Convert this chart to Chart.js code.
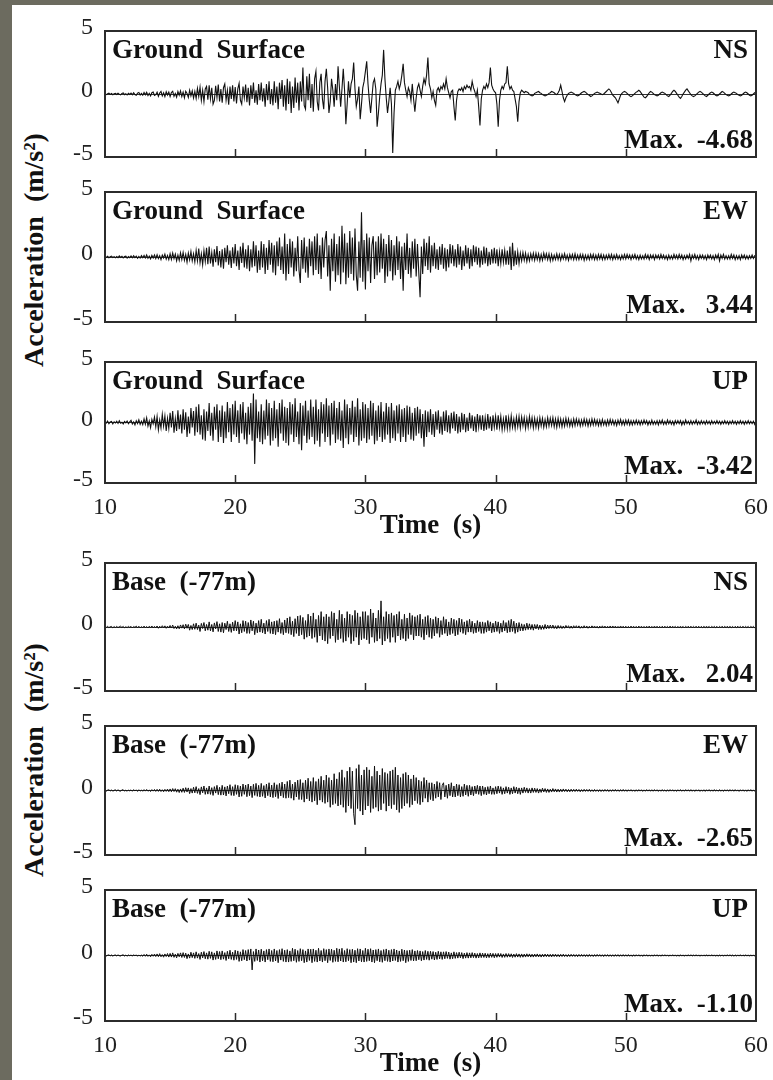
<!DOCTYPE html>
<html><head><meta charset="utf-8">
<script src="https://cdn.jsdelivr.net/npm/chart.js@4.4.1/dist/chart.umd.min.js"></script>
<style>
html,body{margin:0;padding:0;background:#fff;width:773px;height:1080px;overflow:hidden;position:relative;}
.frameL{position:absolute;left:0;top:0;width:12px;height:1080px;background:#6c6b5f;}
.frameT{position:absolute;left:0;top:0;width:773px;height:5px;background:#6c6b5f;}
canvas{position:absolute;left:0;}
.ytitle{position:absolute;left:34px;font:bold 28px "Liberation Serif",serif;color:#111;white-space:pre;transform:translate(-50%,-50%) rotate(-90deg);}
</style></head><body>
<div class="frameL"></div><div class="frameT"></div>
<div class="ytitle" style="top:250px">Acceleration  (m/s²)</div>
<div class="ytitle" style="top:760px">Acceleration  (m/s²)</div>
<script>
const T_START = 10;
const T_STEP = 0.1;   // sampling interval (s) of every record, one row = 1 s
const X_TICKS = [10, 20, 30, 40, 50, 60];
const Y_TICKS = [-5, 0, 5];
const STATIONS = ['Ground  Surface','Ground  Surface','Ground  Surface','Base  (-77m)','Base  (-77m)','Base  (-77m)'];
const COMPONENTS = ['NS','EW','UP','NS','EW','UP'];
const MAX_TEXT = ['Max.  -4.68','Max.   3.44','Max.  -3.42','Max.   2.04','Max.  -2.65','Max.  -1.10'];

// Ground surface NS
const gsNS = [
0.03,-0.05,0.02,0.06,-0.03,0.04,-0.06,0.02,0.05,-0.04,
0.06,-0.02,-0.07,0.04,0.08,-0.05,0.03,-0.08,0.06,-0.03,
0.08,-0.06,0.1,-0.04,-0.1,0.07,0.12,-0.08,0.05,-0.1,
0.12,-0.06,0.14,-0.12,0.05,-0.15,0.1,0.16,-0.12,-0.05,
0.15,-0.18,0.08,0.2,-0.15,0.1,-0.2,0.18,-0.08,0.15,
-0.2,0.12,0.22,-0.18,0.05,-0.25,0.2,-0.1,0.25,-0.2,
0.15,-0.3,0.22,0.05,-0.28,0.3,-0.15,0.25,-0.32,0.2,
-0.35,0.45,-0.2,0.55,-0.5,0.3,-0.6,0.4,0.6,-0.45,
0.7,-0.4,0.5,-0.8,-0.5,0.65,-0.3,0.75,-0.6,0.4,
-0.7,0.5,0.8,-0.5,0.3,-0.85,0.6,-0.4,0.7,-0.6,
0.55,-0.75,0.4,0.85,-0.5,-0.8,0.6,-0.3,0.75,-0.65,
0.5,-0.9,0.7,-0.4,0.9,-0.7,0.3,-0.85,0.8,-0.5,
0.9,-0.6,0.45,-1.0,0.8,-0.5,1.0,-0.8,0.4,-0.9,
1.0,-0.7,0.6,-1.2,0.9,-0.4,1.1,-1.0,0.7,-1.3,
1.2,-0.8,1.0,-1.5,0.6,-1.1,1.3,-0.7,0.9,-1.3,
1.0,-0.6,2.1,-0.9,-1.2,1.4,-0.5,1.6,-1.1,0.8,
-1.4,1.2,1.8,-0.6,-1.3,0.9,1.6,-0.4,-1.2,1.0,
2.0,0.5,-1.5,-0.6,1.2,0.3,-1.0,0.8,-0.5,2.2,
0.6,-1.0,0.4,2.0,0.3,-2.4,-0.8,1.0,-0.3,0.8,
1.2,2.5,0.4,-1.0,-0.4,0.6,-2.0,-0.8,0.5,1.0,
1.8,2.6,0.8,-0.5,-1.5,-0.3,0.9,1.2,0.4,-2.6,
-1.5,-0.2,0.8,1.5,3.5,1.2,-0.3,-1.5,-0.6,0.5,
-0.8,-4.68,-1.5,0.3,0.6,1.0,0.4,0.8,1.5,2.4,
0.9,0.3,-0.2,0.5,0.2,-0.5,0.8,-0.4,-1.4,-0.3,
0.5,0.8,0.3,-0.2,0.6,1.2,0.8,1.5,2.9,0.8,
0.4,-0.3,0.2,-0.5,-0.9,0.3,0.5,0.2,0.6,0.4,
0.8,0.4,1.2,0.5,0.1,-0.3,0.2,0.3,-1.0,-2.1,
-0.5,0.2,0.4,0.3,0.5,0.2,0.6,0.4,0.7,0.5,
0.6,0.3,1.0,0.5,0.2,-0.2,0.3,-1.0,-2.5,-0.4,
0.3,0.6,0.4,0.8,0.5,0.9,2.1,0.7,0.4,0.2,
0.1,-0.8,-2.6,-0.5,0.3,0.6,0.4,0.8,0.9,2.2,
0.8,0.4,0.6,0.3,0.2,-0.4,-1.0,-2.2,-0.6,0.1,
0.3,0.2,0.1,0.2,0.15,0.1,-0.05,-0.1,-0.15,-0.1,
0.05,0.1,0.15,0.2,0.1,0.05,-0.05,-0.1,-0.15,-0.1,
-0.05,0.05,0.1,0.2,0.15,0.1,0.0,-0.05,0.1,0.3,
0.7,0.2,-0.3,-0.6,-0.3,-0.1,0.05,0.1,0.15,0.1,
0.05,-0.05,-0.1,-0.15,-0.1,0.0,0.1,0.15,0.2,0.15,
0.05,-0.05,-0.1,-0.2,-0.15,-0.05,0.05,0.1,0.15,0.1,
0.05,0.0,-0.05,0.0,0.1,0.2,0.3,0.4,0.3,0.1,
-0.1,-0.2,-0.3,-0.5,-0.7,-0.4,-0.1,0.05,0.15,0.2,
0.15,0.05,-0.05,-0.15,-0.2,-0.15,-0.05,0.05,0.15,0.2,
0.3,0.2,0.05,-0.1,-0.25,-0.3,-0.2,-0.05,0.1,0.2,
0.15,0.05,-0.05,-0.1,-0.15,-0.1,0.0,0.1,0.15,0.1,
0.05,-0.05,-0.15,-0.2,-0.1,0.05,0.2,0.3,0.2,0.05,
-0.1,-0.25,-0.35,-0.2,0.0,0.15,0.3,0.4,0.25,0.1,
-0.05,-0.15,-0.2,-0.15,-0.05,0.05,0.15,0.2,0.15,0.05,
-0.05,-0.15,-0.2,-0.1,0.0,0.1,0.15,0.1,0.0,-0.1,
-0.15,-0.1,0.0,0.1,0.2,0.15,0.05,-0.05,-0.1,-0.15,
-0.1,0.0,0.1,0.15,0.1,0.05,-0.05,-0.1,-0.15,-0.1,
0.0,0.1,0.15,0.1,0.0,-0.1,-0.15,-0.1,0.0,0.1,
0.05];

// Ground surface EW
const gsEW = [
0.05,-0.03,0.06,-0.05,0.02,0.07,-0.04,0.03,-0.06,0.04,
-0.05,0.08,-0.03,0.05,-0.07,0.04,0.06,-0.08,0.03,-0.05,
0.08,-0.06,0.1,-0.04,0.07,-0.1,0.05,-0.08,0.1,-0.06,
0.12,-0.08,0.15,-0.1,0.06,-0.14,0.12,-0.07,0.16,-0.12,
0.18,-0.12,0.1,-0.2,0.15,-0.08,0.22,-0.16,0.12,-0.2,
0.25,-0.18,0.3,-0.12,0.22,-0.3,0.15,-0.25,0.32,-0.2,
0.35,-0.25,0.2,-0.4,0.3,-0.22,0.42,-0.3,0.25,-0.38,
0.5,-0.3,0.65,-0.45,0.25,-0.6,0.5,-0.35,0.7,-0.55,
0.8,-0.5,0.35,-0.75,0.6,-0.4,0.85,-0.65,0.45,-0.8,
0.6,-0.9,0.7,-0.4,0.9,-0.6,0.5,-0.85,0.75,-0.5,
1.0,-0.7,0.5,-1.0,0.8,-0.45,1.1,-0.8,0.6,-0.9,
0.9,-1.1,0.6,-0.8,1.2,-0.7,0.9,-1.2,0.5,-1.0,
1.2,-0.8,1.0,-1.3,0.7,-1.0,1.3,-0.6,1.1,-1.2,
0.9,-1.4,1.2,-0.7,1.5,-1.0,0.8,-1.3,1.8,-1.8,
1.0,-1.3,1.4,-0.8,1.2,-1.5,0.7,-1.1,1.6,-1.0,
-2.0,1.3,-0.9,1.5,-1.2,0.8,-1.6,1.4,-0.7,1.2,
-1.4,1.6,-1.0,1.8,-1.3,0.9,-1.7,1.5,-0.8,1.3,
2.0,-1.5,0.9,-2.6,1.4,-1.1,1.8,-1.9,1.0,-1.4,
1.6,-2.1,2.4,-1.2,1.8,-2.1,1.1,-1.6,2.0,-1.3,
1.5,-1.8,2.2,-1.4,-2.6,1.2,-1.6,3.44,-1.9,1.3,
-2.5,1.8,-1.1,1.5,-2.0,0.9,1.6,-1.7,1.2,-1.4,
1.6,-1.2,1.8,-0.9,1.4,-2.0,1.0,-1.5,1.7,-1.1,
1.3,-1.8,0.9,-1.4,1.6,-1.0,1.2,-1.7,0.8,-2.6,
1.1,-1.0,1.8,-1.3,0.7,-1.6,1.2,-0.9,1.4,-1.5,
1.0,-1.2,-3.1,0.8,-1.3,1.4,-0.7,1.1,-1.0,1.6,
-1.2,0.9,-0.7,1.1,-0.9,0.6,-1.0,0.8,-0.6,1.0,
-0.9,0.7,-1.1,0.6,-0.8,1.0,-0.5,0.9,-0.7,0.6,
-0.8,1.0,-0.6,0.8,-1.0,0.5,-0.7,0.9,-0.5,0.7,
-0.9,0.6,-0.7,0.9,-0.4,0.8,-0.6,0.7,-0.8,0.5,
-0.6,0.8,-0.5,0.7,-0.7,0.4,-0.6,0.6,-0.5,0.7,
-0.5,0.6,-0.7,0.4,-0.5,0.6,-0.4,0.5,-0.6,0.5,
-0.6,0.8,-1.0,1.1,-0.7,0.5,-0.6,0.4,-0.5,0.3,
-0.3,0.35,-0.25,0.3,-0.35,0.2,-0.3,0.25,-0.2,0.3,
-0.25,0.3,-0.2,0.25,-0.3,0.2,-0.25,0.3,-0.15,0.25,
-0.2,0.25,-0.3,0.2,-0.25,0.15,-0.2,0.25,-0.2,0.2,
-0.25,0.2,-0.15,0.25,-0.2,0.15,-0.25,0.2,-0.15,0.2,
-0.2,0.25,-0.2,0.15,-0.2,0.2,-0.15,0.2,-0.25,0.15,
-0.2,0.15,-0.2,0.2,-0.15,0.2,-0.2,0.15,-0.2,0.2,
-0.15,0.2,-0.2,0.15,-0.2,0.15,-0.15,0.2,-0.15,0.2,
-0.2,0.15,-0.15,0.2,-0.15,0.1,-0.2,0.15,-0.15,0.2,
-0.15,0.2,-0.1,0.15,-0.2,0.15,-0.1,0.2,-0.15,0.1,
-0.2,0.15,-0.15,0.1,-0.15,0.2,-0.1,0.15,-0.2,0.15,
-0.1,0.15,-0.2,0.15,-0.1,0.15,-0.15,0.2,-0.1,0.15,
-0.15,0.1,-0.2,0.15,-0.15,0.1,-0.15,0.2,-0.1,0.15,
-0.15,0.2,-0.1,0.15,-0.2,0.1,-0.15,0.15,-0.1,0.2,
-0.3,0.15,-0.1,0.2,-0.15,0.1,-0.2,0.15,-0.1,0.15,
-0.15,0.1,-0.2,0.15,-0.1,0.15,-0.15,0.1,-0.2,0.15,
-0.1,0.2,-0.3,0.15,-0.1,0.2,-0.15,0.1,-0.15,0.1,
-0.15,0.2,-0.1,0.15,-0.2,0.1,-0.15,0.1,-0.2,0.15,
-0.1,0.15,-0.15,0.1,-0.15,0.1,-0.1,0.15,-0.1,0.1,
0.05];

// Ground surface UP
const gsUP = [
0.1,-0.05,0.12,-0.1,0.04,0.08,-0.12,0.06,-0.04,0.1,
-0.08,0.14,-0.06,0.02,-0.12,0.09,-0.03,0.12,-0.1,0.05,
0.18,-0.12,0.05,-0.2,0.15,-0.08,0.22,-0.15,0.1,-0.18,
0.3,-0.15,0.38,-0.3,0.12,-0.42,0.25,-0.1,0.45,-0.35,
0.5,-0.6,0.2,-0.45,0.68,-0.3,0.55,-0.7,0.35,-0.5,
0.8,-0.4,0.95,-0.85,0.3,-0.7,1.0,-0.55,0.65,-0.9,
1.1,-0.6,0.85,-1.2,0.5,-0.9,1.2,-0.4,0.95,-1.1,
1.3,-0.8,1.5,-1.0,0.6,-1.4,1.1,-1.5,0.9,-0.7,
1.6,-1.1,0.8,-1.5,1.3,-0.6,1.5,-1.6,1.0,-1.2,
1.4,-1.7,0.9,-1.3,1.7,-0.8,1.2,-1.6,1.5,-1.0,
1.8,-1.2,1.0,-1.7,1.5,-0.9,1.7,-1.4,0.8,-1.8,
1.3,-1.0,1.6,-1.5,2.4,-3.42,1.9,-1.3,0.9,-1.6,
1.5,-1.8,1.0,-1.4,1.9,-1.1,1.6,-1.9,1.2,-1.5,
1.8,-1.3,1.1,-2.0,1.6,-0.9,1.9,-1.5,1.3,-1.7,
1.2,-1.9,1.7,-1.0,1.5,-1.6,2.0,-1.2,0.9,-1.8,
1.6,-2.3,1.4,-1.1,1.8,-1.7,1.0,-1.4,1.9,-1.2,
1.3,-1.8,1.9,-1.5,1.1,-2.0,1.7,-0.9,1.5,-1.6,
2.0,-1.2,1.4,-1.9,1.6,-1.0,1.8,-1.7,1.2,-1.4,
1.7,-1.5,1.0,-2.1,1.9,-1.3,1.5,-1.8,1.2,-1.0,
1.8,-1.6,1.3,-1.2,2.0,-1.9,1.1,-1.5,1.7,-1.3,
1.5,-1.7,1.2,-1.4,1.8,-1.1,1.6,-1.8,1.0,-1.5,
1.4,-1.2,1.7,-1.6,0.9,-1.4,1.6,-1.0,1.3,-1.7,
1.6,-1.3,1.0,-1.5,1.4,-0.9,1.5,-1.6,1.1,-1.2,
1.2,-1.6,1.4,-1.0,1.3,-1.4,0.8,-1.5,1.2,-1.1,
1.3,-0.9,1.1,-1.3,0.7,-2.0,1.0,-1.2,0.9,-0.8,
1.1,-1.0,0.7,-1.2,0.9,-0.6,1.0,-0.9,0.5,-1.0,
0.9,-0.7,1.0,-0.8,0.6,-0.9,0.8,-0.5,0.9,-0.7,
0.7,-0.9,0.5,-0.8,0.8,-0.6,0.7,-0.8,0.4,-0.7,
0.8,-0.5,0.6,-0.7,0.5,-0.8,0.7,-0.4,0.6,-0.6,
0.6,-0.7,0.4,-0.6,0.7,-0.5,0.5,-0.7,0.6,-0.4,
0.5,-0.6,0.6,-0.4,0.5,-0.6,0.3,-0.5,0.6,-0.5,
0.4,-0.5,0.55,-0.4,0.3,-0.5,0.45,-0.35,0.5,-0.45,
0.45,-0.3,0.4,-0.5,0.35,-0.4,0.5,-0.3,0.4,-0.45,
0.35,-0.4,0.3,-0.45,0.4,-0.3,0.35,-0.4,0.25,-0.35,
0.4,-0.3,0.35,-0.25,0.4,-0.35,0.3,-0.4,0.35,-0.3,
0.3,-0.35,0.25,-0.3,0.35,-0.25,0.3,-0.3,0.2,-0.3,
0.3,-0.25,0.3,-0.2,0.25,-0.3,0.2,-0.25,0.3,-0.2,
0.25,-0.3,0.2,-0.25,0.3,-0.2,0.25,-0.2,0.2,-0.25,
0.2,-0.25,0.25,-0.2,0.15,-0.25,0.2,-0.2,0.25,-0.15,
0.2,-0.2,0.15,-0.25,0.2,-0.15,0.25,-0.2,0.15,-0.2,
0.2,-0.15,0.2,-0.2,0.15,-0.2,0.15,-0.15,0.2,-0.15,
0.15,-0.2,0.15,-0.15,0.2,-0.1,0.15,-0.2,0.1,-0.15,
0.2,-0.15,0.1,-0.15,0.15,-0.2,0.15,-0.1,0.2,-0.15,
0.1,-0.15,0.2,-0.1,0.15,-0.15,0.1,-0.2,0.15,-0.1,
0.15,-0.1,0.15,-0.2,0.1,-0.15,0.2,-0.1,0.1,-0.15,
0.15,-0.15,0.1,-0.1,0.2,-0.15,0.1,-0.15,0.15,-0.1,
0.1,-0.15,0.15,-0.1,0.1,-0.15,0.15,-0.1,0.1,-0.1,
0.15,-0.1,0.1,-0.15,0.1,-0.1,0.15,-0.1,0.1,-0.15,
0.1,-0.1,0.15,-0.1,0.1,-0.15,0.1,-0.1,0.15,-0.1,
0.1,-0.15,0.1,-0.1,0.15,-0.1,0.1,-0.1,0.1,-0.15,
0.1];

// Base (-77 m) NS
const bNS = [
0.04,-0.03,0.06,-0.05,0.02,0.05,-0.06,0.03,-0.04,0.05,
-0.05,0.03,0.06,-0.04,0.05,-0.06,0.02,-0.05,0.06,-0.03,
0.05,-0.07,0.04,-0.03,0.07,-0.05,0.06,-0.06,0.03,-0.05,
0.07,-0.05,0.04,-0.08,0.06,-0.04,0.08,-0.07,0.05,-0.06,
0.08,-0.1,0.06,-0.07,0.1,-0.05,0.09,-0.1,0.07,-0.08,
0.12,-0.08,0.15,-0.12,0.06,-0.15,0.1,-0.14,0.16,-0.09,
0.18,-0.15,0.22,-0.1,0.2,-0.25,0.12,-0.2,0.25,-0.18,
0.3,-0.2,0.15,-0.35,0.28,-0.12,0.35,-0.3,0.2,-0.25,
0.4,-0.3,0.2,-0.38,0.32,-0.15,0.42,-0.35,0.25,-0.4,
0.35,-0.45,0.3,-0.2,0.45,-0.35,0.25,-0.42,0.38,-0.3,
0.5,-0.3,0.4,-0.55,0.25,-0.45,0.5,-0.35,0.45,-0.5,
0.35,-0.5,0.55,-0.3,0.45,-0.6,0.3,-0.45,0.5,-0.4,
0.6,-0.45,0.3,-0.55,0.5,-0.35,0.6,-0.5,0.4,-0.55,
0.45,-0.6,0.5,-0.4,0.65,-0.5,0.35,-0.6,0.55,-0.45,
0.7,-0.5,0.8,-0.6,0.45,-0.75,0.65,-0.5,0.85,-0.7,
0.9,-0.6,0.75,-0.95,0.5,-0.8,1.0,-0.7,0.85,-0.9,
1.1,-0.8,0.6,-1.2,0.9,-0.7,1.2,-1.0,0.8,-1.1,
1.0,-1.3,0.8,-0.9,1.2,-0.7,1.1,-1.2,0.6,-1.0,
1.3,-0.9,1.0,-1.2,0.7,-1.1,1.2,-0.8,1.0,-1.3,
0.9,-1.1,1.3,-0.8,1.1,-1.4,0.8,-1.0,1.2,-0.9,
1.2,-1.0,0.9,-1.3,1.4,-0.8,1.1,-1.2,0.7,-1.1,
1.3,-0.9,2.04,-1.4,0.8,-1.1,1.2,-0.9,1.0,-1.2,
1.1,-0.8,0.9,-1.2,1.0,-0.7,1.2,-1.0,0.6,-0.9,
1.0,-1.1,0.7,-0.9,1.1,-0.6,0.9,-1.0,0.8,-0.7,
0.9,-0.7,1.0,-0.8,0.6,-1.0,0.8,-0.6,0.9,-0.8,
0.7,-0.9,0.6,-0.7,0.8,-0.5,0.7,-0.8,0.5,-0.6,
0.8,-0.5,0.6,-0.7,0.4,-0.6,0.7,-0.5,0.6,-0.7,
0.5,-0.6,0.7,-0.4,0.6,-0.5,0.4,-0.6,0.5,-0.4,
0.6,-0.4,0.45,-0.5,0.3,-0.45,0.5,-0.35,0.4,-0.5,
0.4,-0.5,0.35,-0.4,0.5,-0.3,0.4,-0.45,0.3,-0.4,
0.45,-0.35,0.4,-0.5,0.3,-0.4,0.5,-0.3,0.35,-0.45,
0.5,-0.4,0.6,-0.35,0.45,-0.5,0.3,-0.4,0.35,-0.3,
0.25,-0.3,0.2,-0.25,0.3,-0.2,0.25,-0.2,0.2,-0.25,
0.2,-0.15,0.2,-0.2,0.15,-0.2,0.12,-0.18,0.2,-0.15,
0.15,-0.12,0.15,-0.1,0.15,-0.12,0.1,-0.14,0.12,-0.1,
0.1,-0.12,0.08,-0.1,0.12,-0.08,0.1,-0.1,0.08,-0.1,
0.1,-0.08,0.1,-0.07,0.09,-0.1,0.06,-0.09,0.1,-0.08,
0.08,-0.1,0.06,-0.08,0.09,-0.06,0.08,-0.08,0.06,-0.09,
0.07,-0.08,0.09,-0.06,0.07,-0.08,0.06,-0.07,0.08,-0.06,
0.08,-0.06,0.07,-0.08,0.05,-0.07,0.08,-0.06,0.06,-0.07,
0.06,-0.07,0.05,-0.06,0.07,-0.05,0.06,-0.07,0.05,-0.06,
0.07,-0.05,0.06,-0.06,0.05,-0.07,0.06,-0.05,0.07,-0.06,
0.05,-0.06,0.07,-0.05,0.06,-0.05,0.05,-0.06,0.06,-0.05,
0.06,-0.05,0.05,-0.06,0.07,-0.05,0.06,-0.05,0.05,-0.06,
0.05,-0.06,0.06,-0.05,0.05,-0.06,0.05,-0.05,0.06,-0.05,
0.06,-0.05,0.05,-0.05,0.06,-0.05,0.06,-0.06,0.05,-0.05,
0.05,-0.05,0.06,-0.05,0.05,-0.06,0.05,-0.05,0.05,-0.05,
0.05,-0.06,0.05,-0.05,0.06,-0.05,0.05,-0.05,0.06,-0.05,
0.05,-0.05,0.05,-0.06,0.05,-0.05,0.06,-0.05,0.05,-0.05,
0.06,-0.05,0.05,-0.05,0.05,-0.06,0.05,-0.05,0.05,-0.05,
0.03];

// Base (-77 m) EW
const bEW = [
0.04,-0.05,0.03,0.06,-0.04,0.05,-0.06,0.02,0.05,-0.04,
0.06,-0.03,-0.05,0.04,0.06,-0.05,0.03,-0.06,0.04,-0.03,
0.05,-0.06,0.07,-0.04,0.05,-0.07,0.06,-0.05,0.04,-0.06,
0.07,-0.05,0.08,-0.06,0.04,-0.08,0.07,-0.05,0.08,-0.07,
0.09,-0.07,0.1,-0.08,0.06,-0.1,0.09,-0.07,0.11,-0.09,
0.12,-0.1,0.15,-0.08,0.14,-0.13,0.1,-0.16,0.12,-0.14,
0.18,-0.15,0.22,-0.12,0.2,-0.24,0.15,-0.2,0.25,-0.18,
0.3,-0.22,0.15,-0.32,0.28,-0.18,0.35,-0.3,0.2,-0.28,
0.35,-0.3,0.22,-0.38,0.3,-0.2,0.4,-0.32,0.25,-0.36,
0.4,-0.35,0.28,-0.42,0.35,-0.25,0.45,-0.38,0.3,-0.4,
0.45,-0.3,0.4,-0.5,0.35,-0.45,0.5,-0.3,0.42,-0.48,
0.5,-0.4,0.35,-0.55,0.48,-0.38,0.55,-0.45,0.4,-0.5,
0.55,-0.45,0.38,-0.58,0.5,-0.4,0.6,-0.5,0.42,-0.55,
0.6,-0.48,0.45,-0.62,0.55,-0.42,0.65,-0.55,0.5,-0.6,
0.7,-0.55,0.8,-0.6,0.5,-0.75,0.65,-0.5,0.8,-0.7,
0.85,-0.7,0.6,-0.9,0.8,-0.65,0.95,-0.8,0.7,-0.9,
1.0,-0.8,0.7,-1.1,0.9,-0.75,1.1,-0.9,0.8,-1.0,
1.2,-0.9,1.0,-1.3,0.8,-1.1,1.3,-1.0,0.9,-1.2,
1.4,-1.1,1.6,-1.3,1.0,-1.7,1.5,-1.2,1.8,-1.4,
1.5,-1.8,-2.65,1.7,-1.4,2.0,-1.6,1.2,-1.9,1.6,
-1.5,1.8,-1.2,1.6,-1.7,1.1,-1.4,1.9,-1.3,1.5,
-1.6,1.2,-1.5,1.7,-1.0,1.4,-1.6,1.3,-1.2,1.5,
-1.4,1.6,-1.1,1.8,-1.5,1.2,-1.7,1.0,-1.4,1.3,
-1.2,1.4,-1.0,1.2,-1.3,0.9,-1.1,1.2,-0.8,1.0,
-1.0,0.8,-1.1,0.7,-0.9,1.0,-0.6,0.8,-0.9,0.6,
-0.7,0.6,-0.8,0.5,-0.6,0.7,-0.5,0.6,-0.7,0.4,
0.6,-0.5,0.4,-0.6,0.5,-0.4,0.6,-0.5,0.35,-0.5,
0.5,-0.4,0.45,-0.5,0.3,-0.45,0.5,-0.35,0.4,-0.45,
0.4,-0.35,0.3,-0.4,0.35,-0.25,0.4,-0.3,0.35,-0.4,
0.35,-0.3,0.25,-0.35,0.3,-0.25,0.35,-0.3,0.2,-0.3,
0.3,-0.25,0.35,-0.2,0.3,-0.3,0.2,-0.25,0.3,-0.2,
0.25,-0.3,0.2,-0.25,0.3,-0.2,0.25,-0.25,0.2,-0.3,
0.2,-0.2,0.25,-0.15,0.2,-0.2,0.15,-0.2,0.2,-0.15,
0.18,-0.15,0.15,-0.2,0.12,-0.15,0.18,-0.12,0.15,-0.15,
0.12,-0.15,0.1,-0.12,0.15,-0.1,0.12,-0.12,0.1,-0.12,
0.1,-0.1,0.12,-0.08,0.1,-0.1,0.08,-0.1,0.1,-0.08,
0.09,-0.08,0.1,-0.07,0.08,-0.1,0.07,-0.08,0.09,-0.07,
0.08,-0.07,0.09,-0.08,0.06,-0.08,0.08,-0.07,0.06,-0.08,
0.07,-0.08,0.06,-0.07,0.08,-0.06,0.07,-0.08,0.06,-0.07,
0.07,-0.06,0.08,-0.06,0.06,-0.07,0.07,-0.06,0.08,-0.06,
0.06,-0.07,0.06,-0.05,0.07,-0.06,0.05,-0.07,0.06,-0.06,
0.07,-0.05,0.06,-0.07,0.05,-0.06,0.07,-0.05,0.06,-0.06,
0.06,-0.06,0.07,-0.05,0.06,-0.07,0.05,-0.06,0.07,-0.05,
0.05,-0.07,0.06,-0.06,0.07,-0.05,0.06,-0.06,0.05,-0.07,
0.06,-0.05,0.07,-0.06,0.05,-0.06,0.07,-0.05,0.06,-0.06,
0.07,-0.06,0.05,-0.07,0.06,-0.05,0.06,-0.07,0.05,-0.06,
0.06,-0.07,0.06,-0.05,0.07,-0.06,0.05,-0.06,0.07,-0.05,
0.05,-0.06,0.07,-0.06,0.05,-0.07,0.06,-0.05,0.06,-0.06,
0.07,-0.05,0.06,-0.06,0.07,-0.05,0.05,-0.07,0.06,-0.05,
0.06,-0.06,0.05,-0.07,0.06,-0.05,0.07,-0.06,0.05,-0.06,
0.03];

// Base (-77 m) UP
const bUP = [
0.03,-0.04,0.02,0.05,-0.03,0.04,-0.05,0.02,0.04,-0.03,
0.05,-0.02,-0.04,0.03,0.05,-0.04,0.03,-0.05,0.04,-0.02,
0.04,-0.05,0.06,-0.03,0.05,-0.06,0.04,-0.05,0.03,-0.06,
0.08,-0.06,0.1,-0.07,0.05,-0.1,0.09,-0.06,0.11,-0.08,
0.12,-0.09,0.14,-0.1,0.07,-0.13,0.12,-0.08,0.15,-0.12,
0.16,-0.12,0.2,-0.14,0.1,-0.18,0.16,-0.1,0.2,-0.15,
0.22,-0.15,0.18,-0.24,0.12,-0.2,0.25,-0.16,0.2,-0.22,
0.28,-0.2,0.15,-0.3,0.25,-0.18,0.3,-0.25,0.2,-0.28,
0.32,-0.22,0.28,-0.35,0.2,-0.3,0.35,-0.25,0.3,-0.32,
0.35,-0.28,0.22,-0.38,0.32,-0.25,0.4,-0.3,0.26,-0.36,
0.4,-0.3,0.35,-0.45,0.28,-0.4,0.45,-0.32,0.38,-0.42,
0.45,-0.35,0.5,-1.10,0.3,-0.45,0.5,-0.38,0.42,-0.5,
0.48,-0.4,0.35,-0.5,0.45,-0.32,0.5,-0.45,0.38,-0.48,
0.5,-0.42,0.38,-0.55,0.45,-0.35,0.52,-0.45,0.4,-0.5,
0.45,-0.5,0.35,-0.45,0.55,-0.4,0.48,-0.52,0.38,-0.45,
0.52,-0.4,0.45,-0.55,0.35,-0.5,0.5,-0.38,0.48,-0.55,
0.5,-0.45,0.4,-0.5,0.55,-0.42,0.38,-0.5,0.52,-0.4,
0.45,-0.55,0.5,-0.38,0.48,-0.52,0.4,-0.45,0.55,-0.48,
0.5,-0.42,0.55,-0.5,0.38,-0.48,0.52,-0.4,0.45,-0.55,
0.48,-0.5,0.4,-0.55,0.52,-0.42,0.5,-0.48,0.38,-0.5,
0.55,-0.45,0.48,-0.4,0.52,-0.5,0.42,-0.55,0.45,-0.4,
0.5,-0.48,0.38,-0.52,0.45,-0.4,0.5,-0.45,0.4,-0.5,
0.45,-0.42,0.5,-0.38,0.42,-0.5,0.35,-0.45,0.48,-0.4,
0.42,-0.55,0.38,-0.45,0.4,-0.38,0.45,-0.42,0.35,-0.4,
0.38,-0.32,0.35,-0.4,0.3,-0.35,0.38,-0.3,0.32,-0.36,
0.32,-0.28,0.3,-0.34,0.25,-0.3,0.32,-0.26,0.28,-0.3,
0.28,-0.25,0.3,-0.22,0.26,-0.28,0.2,-0.25,0.28,-0.22,
0.22,-0.2,0.25,-0.18,0.22,-0.24,0.18,-0.2,0.22,-0.2,
0.2,-0.18,0.22,-0.16,0.18,-0.2,0.15,-0.18,0.2,-0.16,
0.18,-0.15,0.17,-0.18,0.14,-0.16,0.18,-0.14,0.16,-0.17,
0.15,-0.14,0.16,-0.12,0.15,-0.15,0.12,-0.14,0.15,-0.13,
0.14,-0.12,0.13,-0.15,0.11,-0.13,0.14,-0.12,0.12,-0.14,
0.12,-0.13,0.11,-0.12,0.13,-0.1,0.12,-0.12,0.1,-0.12,
0.11,-0.1,0.12,-0.11,0.09,-0.12,0.1,-0.1,0.11,-0.09,
0.1,-0.1,0.09,-0.11,0.1,-0.08,0.1,-0.09,0.08,-0.1,
0.09,-0.08,0.1,-0.08,0.07,-0.09,0.08,-0.08,0.09,-0.07,
0.08,-0.08,0.07,-0.09,0.08,-0.07,0.08,-0.07,0.07,-0.08,
0.07,-0.08,0.08,-0.07,0.06,-0.08,0.07,-0.07,0.08,-0.06,
0.07,-0.07,0.06,-0.08,0.07,-0.06,0.07,-0.07,0.06,-0.07,
0.06,-0.07,0.07,-0.06,0.07,-0.07,0.06,-0.06,0.07,-0.06,
0.06,-0.06,0.07,-0.06,0.05,-0.07,0.06,-0.06,0.06,-0.05,
0.06,-0.06,0.05,-0.07,0.06,-0.05,0.06,-0.06,0.05,-0.06,
0.05,-0.06,0.06,-0.05,0.06,-0.06,0.05,-0.06,0.06,-0.05,
0.06,-0.05,0.05,-0.06,0.05,-0.05,0.06,-0.05,0.05,-0.06,
0.05,-0.06,0.06,-0.05,0.05,-0.06,0.05,-0.05,0.06,-0.05,
0.06,-0.05,0.05,-0.05,0.06,-0.05,0.05,-0.06,0.05,-0.05,
0.05,-0.05,0.06,-0.05,0.05,-0.05,0.06,-0.05,0.05,-0.06,
0.05,-0.06,0.05,-0.05,0.05,-0.06,0.05,-0.05,0.06,-0.05,
0.06,-0.05,0.05,-0.06,0.05,-0.05,0.05,-0.05,0.06,-0.05,
0.05,-0.05,0.06,-0.05,0.05,-0.06,0.05,-0.05,0.05,-0.05,
0.03];

const SERIES = [gsNS, gsEW, gsUP, bNS, bEW, bUP];

// layout (pixel boxes of each panel) — styling only
const BOXES = [
  {top: 31, bottom: 157}, {top: 192, bottom: 322}, {top: 362, bottom: 483},
  {top: 563, bottom: 691}, {top: 726, bottom: 855}, {top: 890, bottom: 1021}
];
const SHOW_X = [false, false, true, false, false, true];
const LINE_W = [1.1, 1.1, 1.1, 1, 1, 1];
const SERIF = '"Liberation Serif", "Times New Roman", serif';

function deco(k) {
  return {
    id: 'deco' + k,
    afterDraw(chart) {
      const {ctx, chartArea: a, scales: {x}} = chart;
      ctx.save();
      ctx.strokeStyle = '#2b2b2b';
      ctx.lineWidth = 2;
      ctx.strokeRect(a.left, a.top, a.right - a.left, a.bottom - a.top);
      ctx.lineWidth = 1.5;
      X_TICKS.slice(1, -1).forEach(v => {
        const px = Math.round(x.getPixelForValue(v)) + 0.5;
        ctx.beginPath(); ctx.moveTo(px, a.bottom); ctx.lineTo(px, a.bottom - 8); ctx.stroke();
      });
      ctx.fillStyle = '#111';
      ctx.font = 'bold 27px ' + SERIF;
      ctx.textBaseline = 'alphabetic';
      ctx.textAlign = 'left';
      ctx.fillText(STATIONS[k], a.left + 7, a.top + 27);
      ctx.textAlign = 'right';
      ctx.fillText(COMPONENTS[k], a.right - 8, a.top + 27);
      ctx.fillText(MAX_TEXT[k], a.right - 3, a.bottom - 9);
      ctx.restore();
    }
  };
}

function zeroPad(s) { s.paddingLeft = 0; s.paddingRight = 0; s.paddingTop = 0; s.paddingBottom = 0; }

function makePanel(k) {
  const box = BOXES[k];
  const padTop = 14;
  const below = SHOW_X[k] ? 60 : 4;
  const h = padTop + (box.bottom - box.top) + below;
  const cv = document.createElement('canvas');
  cv.width = 773; cv.height = h;
  cv.style.top = (box.top - padTop) + 'px';
  cv.style.width = '773px'; cv.style.height = h + 'px';
  document.body.appendChild(cv);
  const points = SERIES[k].map((v, i) => ({x: +(T_START + i * T_STEP).toFixed(2), y: v}));
  new Chart(cv.getContext('2d'), {
    type: 'line',
    data: {
      datasets: [{data: points, borderColor: '#111', borderWidth: LINE_W[k], pointRadius: 0, tension: 0, fill: false}]
    },
    options: {
      responsive: false, animation: false, devicePixelRatio: 1,
      layout: {padding: {top: padTop, right: 17, bottom: 0, left: 0}, autoPadding: false},
      plugins: {legend: {display: false}, tooltip: {enabled: false}},
      scales: {
        x: {
          type: 'linear', min: 10, max: 60,
          afterBuildTicks: s => { s.ticks = X_TICKS.map(v => ({value: v})); },
          afterFit: s => { s.height = below; zeroPad(s); },
          grid: {display: false, drawTicks: false}, border: {display: false},
          ticks: {display: SHOW_X[k], padding: 10, font: {family: SERIF, size: 24}, color: '#222', maxRotation: 0, autoSkip: false},
          title: {display: SHOW_X[k], text: 'Time  (s)', font: {family: SERIF, size: 27, weight: 'bold'}, color: '#111', padding: {top: 0, bottom: 1}}
        },
        y: {
          min: -5, max: 5,
          afterBuildTicks: s => { s.ticks = Y_TICKS.map(v => ({value: v})); },
          afterFit: s => { s.width = 105; zeroPad(s); },
          grid: {drawTicks: false, lineWidth: 1, color: c => (c.tick && c.tick.value === 0) ? '#333' : 'rgba(0,0,0,0)'},
          border: {display: false},
          ticks: {padding: 12, labelOffset: -3, font: {family: SERIF, size: 24}, color: '#222'}
        }
      }
    },
    plugins: [deco(k)]
  });
}
for (let k = 0; k < 6; k++) makePanel(k);
</script>
</body></html>
